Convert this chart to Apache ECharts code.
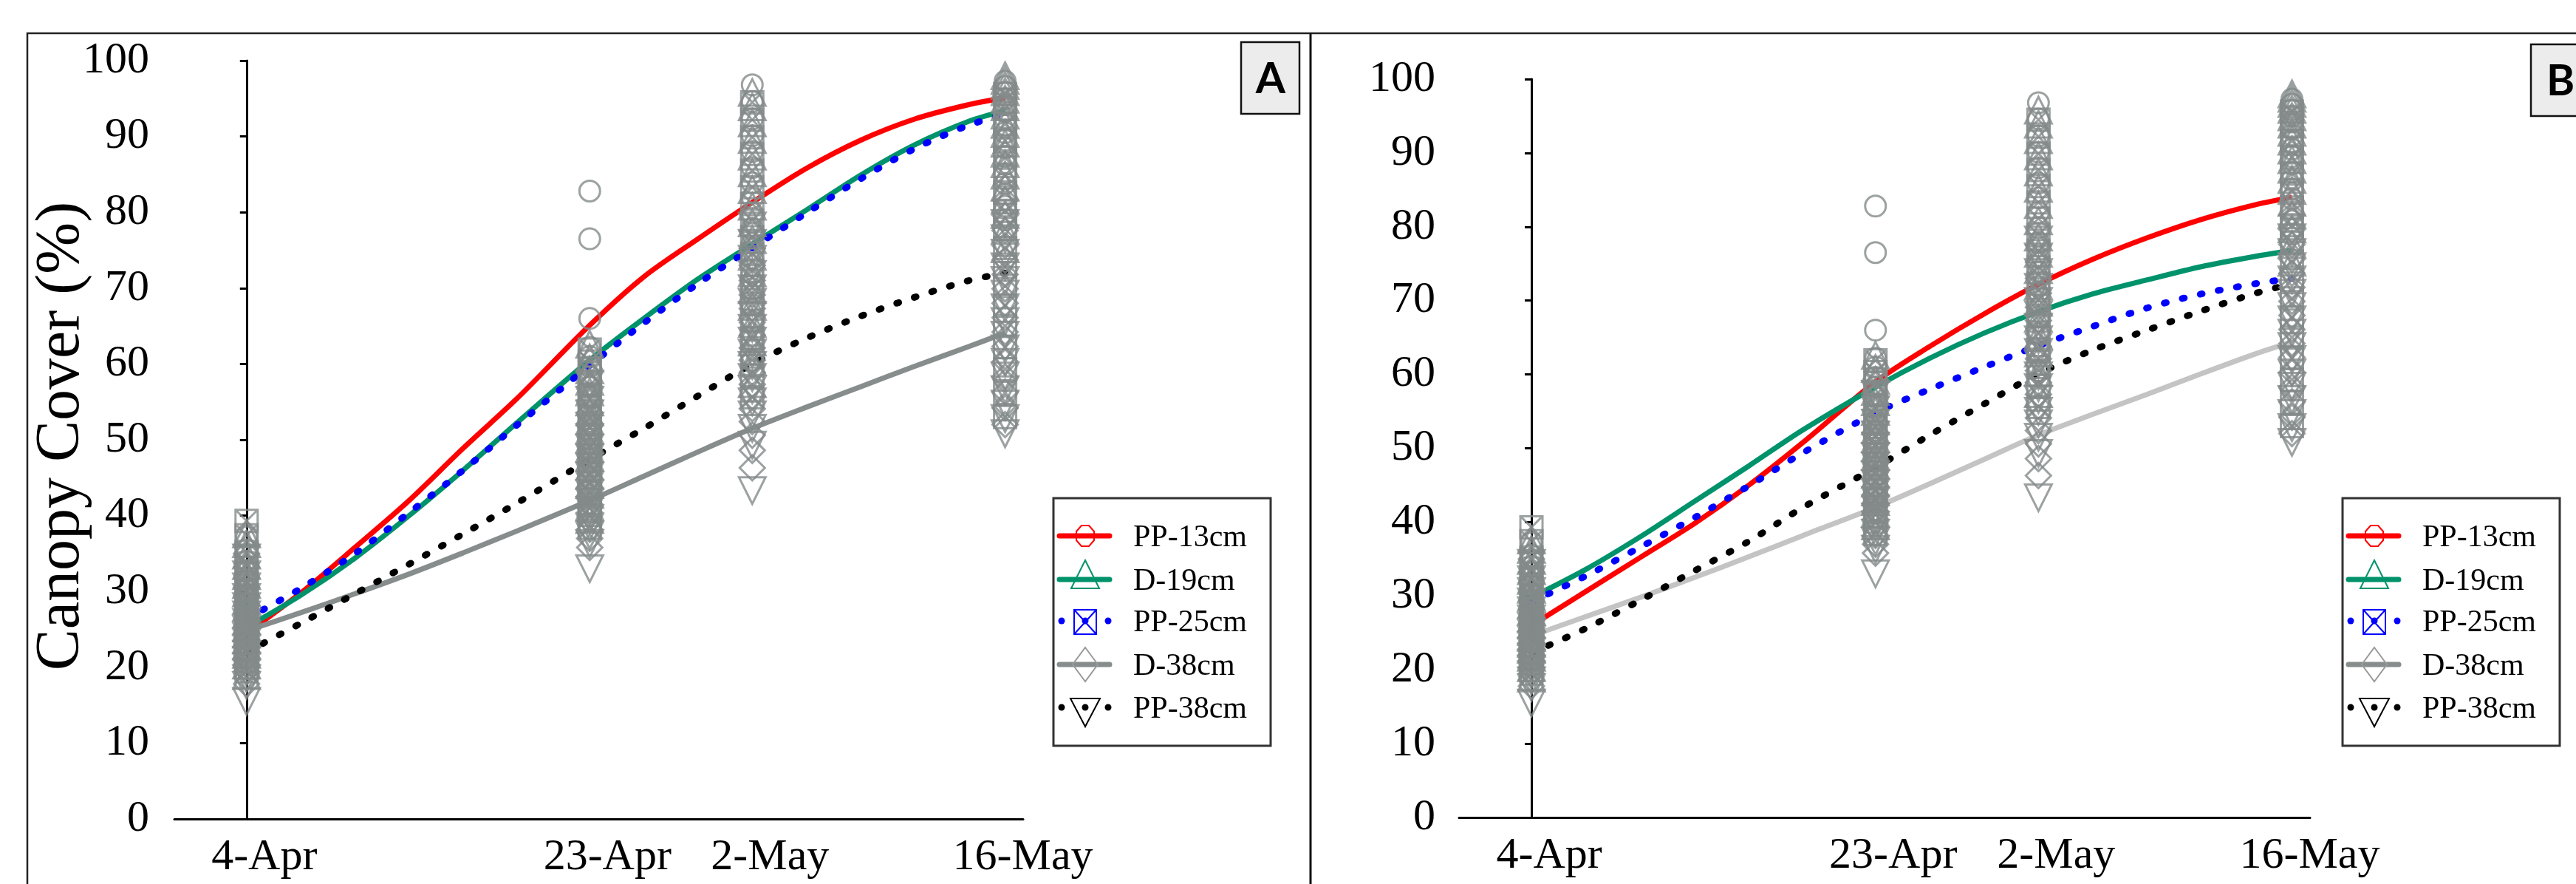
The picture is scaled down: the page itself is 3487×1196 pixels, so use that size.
<!DOCTYPE html>
<html>
<head>
<meta charset="utf-8">
<script src="https://cdn.jsdelivr.net/npm/echarts@6/dist/echarts.min.js"></script>
<style>
  html, body { margin: 0; padding: 0; background: #ffffff; }
  #chart { width: 3487px; height: 1196px; }
</style>
</head>
<body>
<div id="chart"></div>
<script>
// ---- sampling dates (days after 4 April) and their labels ----
const dateDays = [0, 19, 28, 42];
const dateLabels = ['4-Apr', '23-Apr', '2-May', '16-May'];
const treatments = ['PP-13cm', 'D-19cm', 'PP-25cm', 'D-38cm', 'PP-38cm'];
const yTicks = [0, 10, 20, 30, 40, 50, 60, 70, 80, 90, 100];

// ---- observed canopy cover (%) per treatment, one list per sampling date ----
const obsPP13 = [
  [19.8, 21.2, 22.0, 23.1, 23.9, 24.6, 25.3, 26.0, 26.8, 27.5, 28.4, 29.3, 30.2, 31.4, 32.6, 34.0, 35.5, 37.2],
  [43.2, 45.0, 46.4, 47.7, 48.9, 50.1, 51.2, 52.4, 53.5, 54.6, 55.8, 57.0, 58.3, 59.6, 61.0, 62.2, 66.0, 76.5, 82.8],
  [60.5, 63.2, 65.6, 67.8, 69.9, 71.9, 73.9, 75.9, 77.9, 79.9, 81.9, 83.9, 85.9, 88.0, 90.1, 92.3, 94.6, 96.8],
  [79.0, 80.8, 82.4, 83.8, 85.1, 86.3, 87.4, 88.5, 89.5, 90.5, 91.5, 92.4, 93.3, 94.2, 95.0, 95.8, 96.6, 97.3]
];
const obsD19 = [
  [18.9, 20.3, 21.7, 22.8, 23.6, 24.4, 25.2, 26.1, 27.0, 27.9, 28.8, 29.8, 30.9, 32.1, 33.4, 34.8, 36.3, 37.6],
  [39.5, 41.2, 42.8, 44.1, 45.3, 46.5, 47.7, 48.9, 50.1, 51.3, 52.5, 53.7, 55.0, 56.3, 57.7, 59.2, 60.8, 62.6],
  [57.4, 60.3, 62.9, 65.3, 67.6, 69.8, 72.0, 74.2, 76.4, 78.6, 80.8, 83.0, 85.2, 87.4, 89.6, 91.8, 93.9, 95.8],
  [75.2, 77.6, 79.7, 81.6, 83.3, 84.9, 86.4, 87.8, 89.1, 90.4, 91.6, 92.8, 93.9, 94.9, 95.9, 96.7, 97.4, 98.0]
];
const obsPP25 = [
  [19.5, 20.9, 22.3, 23.4, 24.3, 25.0, 25.8, 26.6, 27.4, 28.2, 29.1, 30.0, 31.1, 32.3, 33.7, 35.2, 37.4, 39.3],
  [38.4, 40.1, 41.6, 43.0, 44.3, 45.5, 46.7, 47.9, 49.1, 50.3, 51.6, 52.9, 54.3, 55.7, 57.2, 58.8, 60.3, 61.9],
  [55.6, 58.4, 61.0, 63.4, 65.7, 67.9, 70.1, 72.3, 74.5, 76.7, 78.9, 81.1, 83.3, 85.5, 87.7, 89.9, 92.2, 94.5],
  [53.0, 56.2, 59.3, 62.2, 65.0, 67.7, 70.3, 72.8, 75.3, 77.8, 80.2, 82.6, 84.9, 87.2, 89.4, 91.6, 93.7, 95.6]
];
const obsD38 = [
  [17.8, 18.6, 19.5, 20.4, 21.3, 22.1, 22.9, 23.7, 24.5, 25.3, 26.2, 27.1, 28.2, 29.3, 30.5, 31.8, 33.2, 35.0],
  [35.8, 37.0, 38.2, 39.3, 40.4, 41.5, 42.6, 43.7, 44.8, 45.9, 47.0, 48.2, 49.4, 50.7, 52.1, 53.6, 55.2, 57.0],
  [46.3, 48.6, 50.6, 52.4, 54.1, 55.7, 57.3, 58.9, 60.5, 62.1, 63.8, 65.5, 67.3, 69.1, 71.0, 73.0, 75.2, 77.5],
  [52.0, 54.2, 56.3, 58.3, 60.3, 62.3, 64.2, 66.1, 68.0, 69.9, 71.8, 73.7, 75.6, 77.6, 79.6, 81.6]
];
const obsPP38 = [
  [15.5, 17.6, 18.5, 19.3, 20.1, 20.9, 21.7, 22.5, 23.3, 24.1, 25.0, 25.9, 26.9, 28.0, 29.2, 30.6, 32.2, 34.4],
  [33.0, 36.3, 37.4, 38.5, 39.6, 40.7, 41.8, 42.9, 44.0, 45.2, 46.4, 47.6, 48.9, 50.3, 51.8, 53.4, 55.2, 57.3],
  [43.3, 49.3, 51.5, 53.3, 55.0, 56.6, 58.2, 59.8, 61.4, 63.0, 64.7, 66.4, 68.1, 69.9, 71.8, 73.8, 75.9, 78.2],
  [50.8, 52.8, 54.7, 56.6, 58.4, 60.2, 62.0, 63.8, 65.6, 67.4, 69.2, 71.0, 72.8, 74.6, 76.5, 78.5]
];

// ---- fitted canopy cover curves, read at these days ----
const fitDays = [0, 3, 6, 9, 12, 15, 19, 22, 25, 28, 31, 34, 37, 40, 42];
// panel A
const fitA_PP13 = [24.5, 29.8, 35.8, 42.0, 48.9, 55.5, 65.1, 71.5, 76.5, 81.3, 85.8, 89.5, 92.3, 94.2, 95.1];
const fitA_D19  = [25.3, 29.5, 34.4, 40.0, 46.0, 52.3, 60.5, 66.0, 71.2, 75.8, 80.3, 84.9, 88.9, 92.0, 93.4];
const fitA_PP25 = [26.4, 30.4, 35.0, 40.4, 46.0, 52.0, 59.8, 65.4, 70.6, 75.3, 79.9, 84.4, 88.4, 91.5, 92.9];
const fitA_D38  = [24.8, 27.2, 29.7, 32.3, 35.1, 38.0, 42.0, 45.2, 48.4, 51.5, 54.3, 57.0, 59.7, 62.3, 64.1];
const fitA_PP38 = [22.0, 25.8, 29.7, 33.6, 37.6, 41.7, 47.4, 51.5, 55.8, 60.0, 63.4, 66.3, 68.8, 71.0, 72.0];
// panel B
const fitB_PP13 = [26.0, 30.6, 35.2, 39.8, 45.0, 50.8, 59.0, 63.8, 68.2, 72.2, 75.6, 78.5, 81.0, 83.0, 84.0];
const fitB_D19  = [29.8, 33.6, 38.0, 42.8, 47.6, 52.5, 58.3, 62.2, 65.6, 68.5, 70.9, 72.8, 74.6, 76.0, 76.8];
const fitB_PP25 = [29.2, 32.7, 36.6, 40.6, 44.9, 49.4, 54.8, 58.0, 61.0, 63.9, 66.5, 69.0, 70.9, 72.3, 73.0];
const fitB_D38  = [24.6, 27.2, 29.8, 32.5, 35.3, 38.2, 42.0, 45.2, 48.5, 51.8, 54.6, 57.3, 60.1, 62.8, 64.4];
const fitB_PP38 = [22.3, 25.6, 29.4, 33.4, 37.4, 42.0, 47.4, 51.8, 56.0, 60.1, 63.3, 66.0, 68.6, 71.0, 72.3];

// ---- styling ----
const SERIF = '"Liberation Serif", "Times New Roman", serif';
const MARK_GRAY = '#838a89';
const SQUARE_X = 'path://M0,0L20,0L20,20L0,20Z M0,0L20,20 M20,0L0,20';

const observed = [obsPP13, obsD19, obsPP25, obsD38, obsPP38];
const markerStyle = [
  { symbol: 'circle', size: 28, rotate: 0 },
  { symbol: 'triangle', size: 36, rotate: 0 },
  { symbol: SQUARE_X, size: 30, rotate: 0 },
  { symbol: 'diamond', size: 34, rotate: 0 },
  { symbol: 'triangle', size: 36, rotate: 180 }
];
const curveStyle = [
  { color: '#ff0000', width: 7, type: 'solid', cap: 'butt' },
  { color: '#00936b', width: 7, type: 'solid', cap: 'butt' },
  { color: '#0000ff', width: 9, type: [3, 22], cap: 'round' },
  { color: '#868d8c', width: 7, type: 'solid', cap: 'butt' },
  { color: '#000000', width: 9, type: [3, 22], cap: 'round' }
];

const panels = [
  { grid: { left: 236, top: 82, width: 1149, height: 1026 }, fits: [fitA_PP13, fitA_D19, fitA_PP25, fitA_D38, fitA_PP38],
    d38Color: '#868d8c', labelMargin: 34 },
  { grid: { left: 1975, top: 107, width: 1152, height: 999 }, fits: [fitB_PP13, fitB_D19, fitB_PP25, fitB_D38, fitB_PP38],
    d38Color: '#c4c4c4', labelMargin: 32 }
];

function pairs(xs, ys) { return xs.map((x, i) => [x, ys[i]]); }
function obsPoints(obs) {
  const out = [];
  obs.forEach((vals, i) => vals.forEach(v => out.push([dateDays[i], v])));
  return out;
}

const grids = [], xAxes = [], yAxes = [], series = [];
panels.forEach((p, pi) => {
  grids.push(Object.assign({ containLabel: false }, p.grid));
  xAxes.push({
    type: 'value', gridIndex: pi, min: -4, max: 43,
    axisLine: { show: true, onZero: false, lineStyle: { color: '#000', width: 3 } },
    axisTick: { show: false },
    splitLine: { show: false },
    axisLabel: {
      customValues: dateDays,
      formatter: v => dateLabels[dateDays.indexOf(v)] || '',
      fontFamily: SERIF, fontSize: 60, color: '#000',
      margin: 22, lineHeight: 60, padding: [0, 0, 0, 48]
    }
  });
  yAxes.push({
    type: 'value', gridIndex: pi, min: yTicks[0], max: yTicks[yTicks.length - 1], interval: 10,
    axisLine: { show: true, lineStyle: { color: '#000', width: 3 } },
    axisTick: { show: true, inside: false, length: 9, lineStyle: { color: '#000', width: 3 } },
    splitLine: { show: false },
    axisLabel: { fontFamily: SERIF, fontSize: 60, color: '#000', margin: p.labelMargin }
  });
  // fitted curves
  p.fits.forEach((fit, ti) => {
    const cs = curveStyle[ti];
    series.push({
      type: 'line', name: treatments[ti], xAxisIndex: pi, yAxisIndex: pi,
      data: pairs(fitDays, fit), smooth: 0.3, symbol: 'none',
      lineStyle: { color: ti === 3 ? p.d38Color : cs.color, width: cs.width, type: cs.type, cap: cs.cap },
      z: 2, silent: true
    });
  });
  // observations
  observed.forEach((obs, ti) => {
    const ms = markerStyle[ti];
    series.push({
      type: 'scatter', name: treatments[ti] + ' obs', xAxisIndex: pi, yAxisIndex: pi,
      data: obsPoints(obs), symbol: ms.symbol, symbolSize: ms.size, symbolRotate: ms.rotate,
      itemStyle: { color: 'rgba(0,0,0,0)', borderColor: MARK_GRAY, borderWidth: 3 },
      z: 3, silent: true
    });
  });
});

// ---- legend drawn as a boxed key ----
function legendBox(x0, y0) {
  const rows = [51, 110, 166, 225, 283];
  const kids = [
    { type: 'rect', shape: { x: 0, y: 0, width: 294, height: 335 }, style: { fill: '#fff', stroke: '#333', lineWidth: 3 } }
  ];
  kids.push({ type: 'line', shape: { x1: 8, y1: rows[0], x2: 76, y2: rows[0] }, style: { stroke: '#ff0000', lineWidth: 7, lineCap: 'round' } });
  kids.push({ type: 'polygon', shape: { points: [[38, 37], [48, 37], [55, 45], [55, 57], [48, 65], [38, 65], [31, 57], [31, 45]] },
    style: { fill: null, stroke: '#ff0000', lineWidth: 2 } });
  kids.push({ type: 'line', shape: { x1: 8, y1: rows[1], x2: 76, y2: rows[1] }, style: { stroke: '#00936b', lineWidth: 7, lineCap: 'round' } });
  kids.push({ type: 'polygon', shape: { points: [[43, 84], [62, 122], [24, 122]] }, style: { fill: null, stroke: '#00936b', lineWidth: 2 } });
  kids.push({ type: 'circle', shape: { cx: 11, cy: rows[2], r: 4.5 }, style: { fill: '#0000ff' } });
  kids.push({ type: 'circle', shape: { cx: 74, cy: rows[2], r: 4.5 }, style: { fill: '#0000ff' } });
  kids.push({ type: 'circle', shape: { cx: 43, cy: rows[2], r: 4.5 }, style: { fill: '#0000ff' } });
  kids.push({ type: 'rect', shape: { x: 28, y: 151, width: 30, height: 33 }, style: { fill: null, stroke: '#0000ff', lineWidth: 2 } });
  kids.push({ type: 'polyline', shape: { points: [[28, 151], [58, 184]] }, style: { stroke: '#0000ff', lineWidth: 2 } });
  kids.push({ type: 'polyline', shape: { points: [[58, 151], [28, 184]] }, style: { stroke: '#0000ff', lineWidth: 2 } });
  kids.push({ type: 'line', shape: { x1: 8, y1: rows[3], x2: 76, y2: rows[3] }, style: { stroke: '#868d8c', lineWidth: 7, lineCap: 'round' } });
  kids.push({ type: 'polygon', shape: { points: [[43, 202], [60, 225], [43, 248], [26, 225]] }, style: { fill: null, stroke: '#9a9a9a', lineWidth: 2 } });
  kids.push({ type: 'circle', shape: { cx: 11, cy: rows[4], r: 4.5 }, style: { fill: '#000' } });
  kids.push({ type: 'circle', shape: { cx: 74, cy: rows[4], r: 4.5 }, style: { fill: '#000' } });
  kids.push({ type: 'circle', shape: { cx: 43, cy: rows[4], r: 4.5 }, style: { fill: '#000' } });
  kids.push({ type: 'polygon', shape: { points: [[23, 271], [63, 271], [43, 309]] }, style: { fill: null, stroke: '#000', lineWidth: 2 } });
  treatments.forEach((t, i) => {
    kids.push({ type: 'text', x: 108, y: rows[i] + 3,
      style: { text: t, fontFamily: SERIF, fontSize: 42, fill: '#000', align: 'left', verticalAlign: 'middle' } });
  });
  return { type: 'group', x: x0, y: y0, z: 100, children: kids };
}

function panelTag(x0, y0, letter) {
  return { type: 'group', x: x0, y: y0, z: 100, children: [
    { type: 'rect', shape: { x: 0, y: 0, width: 79, height: 97 }, style: { fill: '#ececec', stroke: '#111', lineWidth: 2.5 } },
    { type: 'text', x: 40, y: 50, style: { text: letter, fontFamily: 'Lato, "Open Sans", sans-serif', fontWeight: 'bold',
      fontSize: 58, fill: '#000', align: 'center', verticalAlign: 'middle' } }
  ] };
}

const graphic = [
  { type: 'polyline', z: 90, shape: { points: [[37, 1200], [37, 45], [3490, 45]] }, style: { fill: null, stroke: '#222', lineWidth: 2.5 } },
  { type: 'line', z: 90, shape: { x1: 1774, y1: 45, x2: 1774, y2: 1200 }, style: { stroke: '#111', lineWidth: 3 } },
  // vertical axis title of panel A
  { type: 'text', z: 100, x: 84, y: 590, rotation: Math.PI / 2,
    style: { text: 'Canopy Cover (%)', fontFamily: SERIF, fontSize: 84, fill: '#000', align: 'center', verticalAlign: 'middle' } },
  panelTag(1680, 57, 'A'),
  panelTag(3426, 60, 'B'),
  legendBox(1426, 674),
  legendBox(3171, 674)
];

const chart = echarts.init(document.getElementById('chart'), null, { renderer: 'canvas' });
chart.setOption({
  backgroundColor: '#ffffff',
  animation: false,
  grid: grids,
  xAxis: xAxes,
  yAxis: yAxes,
  series: series,
  graphic: graphic
});
</script>
</body>
</html>
